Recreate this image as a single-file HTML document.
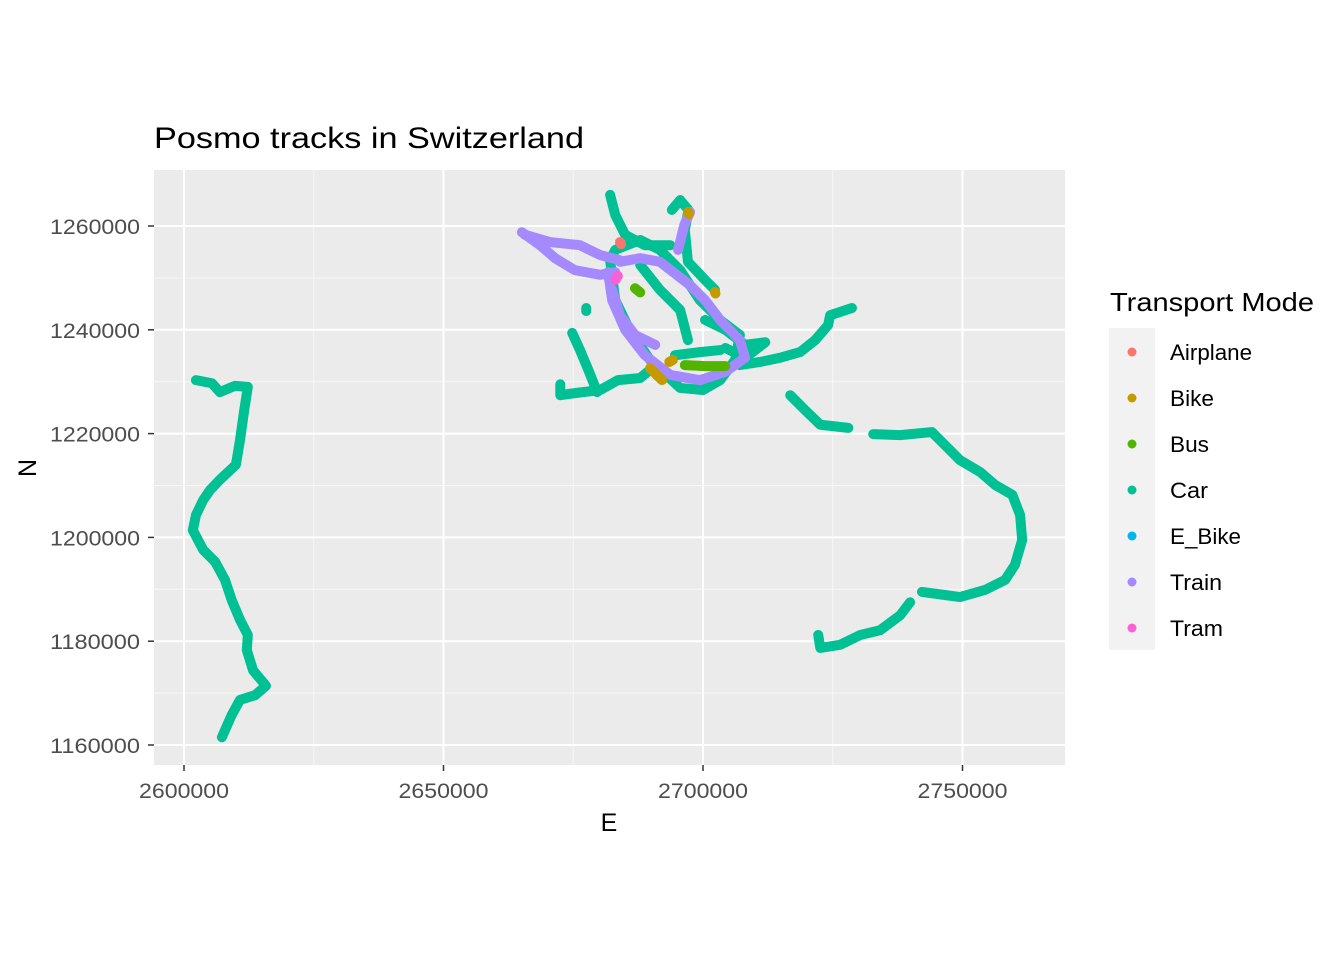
<!DOCTYPE html>
<html><head><meta charset="utf-8"><style>
body{margin:0;background:#fff;font-family:"Liberation Sans",Arial,sans-serif}
svg text{font-family:"Liberation Sans",Arial,sans-serif}
</style></head><body>
<svg id="chart" width="1344" height="960" viewBox="0 0 1344 960">
<rect x="0" y="0" width="1344" height="960" fill="#fff"/>
<text x="154" y="148" font-size="30" textLength="430" lengthAdjust="spacingAndGlyphs" fill="#000">Posmo tracks in Switzerland</text>
<rect x="154" y="170" width="911" height="595" fill="#EBEBEB"/>
<g id="grid"></g>
<g id="tracks"></g>
<g id="axes"></g>
<text x="609" y="831" font-size="25" text-anchor="middle" fill="#000">E</text>
<text x="36" y="468" font-size="25" text-anchor="middle" fill="#000" transform="rotate(-90 36 468)">N</text>
<g id="legend">
<text x="1110" y="311" font-size="26" textLength="204" lengthAdjust="spacingAndGlyphs" fill="#000">Transport Mode</text>
<rect x="1109" y="328" width="46" height="322" fill="#F2F2F2"/>
</g>
</svg>
<script>
const modes = ["Airplane","Bike","Bus","Car","E_Bike","Train","Tram"];
const modeColors = ["#F8766D","#C49A00","#53B400","#00C094","#00B6EB","#A58AFF","#FB61D7"];
const xTicks = [2600000,2650000,2700000,2750000];
const yTicks = [1160000,1180000,1200000,1220000,1240000,1260000];
// tracks: [[E(thousands), N(thousands)], ...]
const carTracks = [
 [[2602.3,1230.3],[2605.4,1229.7],[2606.9,1228.0],[2609.8,1229.2],[2612.3,1229.0],[2611.6,1224.5],[2610.8,1218.8],[2610.0,1214.0],[2606.9,1211.1],[2605.0,1209.1],[2603.7,1207.2],[2602.3,1204.3],[2601.7,1201.4],[2603.7,1197.6],[2606.0,1195.3],[2607.9,1191.8],[2609.2,1187.9],[2610.8,1184.1],[2612.3,1181.2],[2612.1,1178.3],[2613.3,1174.4],[2615.8,1171.4],[2613.7,1169.6],[2610.8,1168.7],[2609.2,1165.8],[2607.3,1161.5]],
 [[2716.8,1227.4],[2719.7,1224.5],[2722.6,1221.7],[2728.0,1221.1]],
 [[2732.8,1219.9],[2738.0,1219.7],[2744.1,1220.3],[2746.6,1217.8],[2749.5,1214.9],[2753.4,1212.6],[2756.3,1210.1],[2759.6,1208.2],[2761.1,1204.3],[2761.5,1199.5],[2760.1,1194.7],[2758.2,1191.8],[2754.4,1189.9],[2749.5,1188.5],[2746.6,1188.9],[2742.2,1189.5]],
 [[2739.9,1187.5],[2738.0,1185.0],[2734.1,1182.1],[2730.3,1181.2],[2726.4,1179.3],[2722.6,1178.7],[2722.2,1181.2]],
 [[2707.1,1233.2],[2711.0,1233.8],[2714.8,1234.6],[2718.7,1235.7],[2721.6,1238.0],[2724.1,1240.9],[2724.5,1242.8],[2728.7,1244.2]],
 [[2672.5,1229.5],[2672.5,1227.4],[2675.3,1227.8],[2680.2,1228.4],[2683.6,1230.3],[2687.9,1230.7],[2689.8,1232.3]],
 [[2674.8,1239.4],[2676.3,1236.1],[2677.9,1232.3],[2679.6,1228.0]],
 [[2682.1,1253.4],[2683.1,1245.7],[2685.9,1239.9],[2689.8,1234.2],[2695.6,1228.8],[2700.0,1228.4],[2703.3,1230.3],[2706.2,1234.2],[2707.1,1239.0],[2703.3,1241.9],[2699.4,1245.7],[2695.6,1251.5],[2691.7,1255.4],[2687.9,1257.3],[2683.1,1255.4],[2682.1,1253.4]],
 [[2682.1,1266.0],[2683.1,1262.1],[2685.0,1258.3],[2688.8,1256.3],[2693.7,1256.3]],
 [[2694.0,1263.1],[2695.6,1265.0],[2697.2,1263.1],[2696.5,1259.2],[2697.1,1253.1],[2700.4,1249.6],[2702.3,1247.7]],
 [[2687.9,1252.5],[2691.7,1247.7],[2695.6,1243.8],[2697.1,1238.0]],
 [[2700.4,1241.9],[2704.3,1240.0],[2708.1,1237.1],[2712.0,1237.6],[2708.1,1234.6],[2704.3,1236.5]],
 [[2677.5,1244.2],[2677.5,1243.6]],
 [[2694.6,1235.1],[2699.4,1235.7],[2703.3,1236.1]]
];
const trainTracks = [
 [[2665.1,1258.8],[2668.6,1256.3],[2671.5,1253.8],[2675.3,1251.5],[2680.2,1250.6],[2683.1,1251.1]],
 [[2665.7,1258.3],[2670.5,1256.9],[2676.3,1256.3],[2680.2,1254.4],[2684.0,1253.4]],
 [[2681.7,1251.1],[2682.5,1245.7],[2685.0,1240.0],[2688.8,1235.1],[2693.7,1231.3],[2699.4,1230.3],[2704.3,1231.9],[2708.1,1234.6],[2707.1,1238.0],[2703.3,1241.9],[2700.4,1245.7],[2697.5,1248.6],[2691.7,1253.1],[2687.9,1253.8],[2684.0,1253.1]],
 [[2682.5,1247.7],[2684.0,1242.8],[2686.9,1239.0],[2690.8,1237.1]],
 [[2695.2,1255.4],[2696.4,1260.2],[2697.5,1262.7]]
];
const busTracks = [
 [[2696.5,1233.2],[2700.5,1233.0],[2704.3,1233.0]],
 [[2686.9,1248.0],[2687.9,1247.2]]
];
const bikeTracks = [
 [[2689.8,1232.6],[2692.1,1230.3]],
 [[2697.1,1262.7],[2697.3,1262.3]],
 [[2702.3,1247.3],[2702.4,1247.0]],
 [[2693.5,1233.8],[2694.2,1234.2]]
];
const airplaneTracks = [ [[2684.0,1256.9],[2684.2,1256.5]] ];
const tramTracks = [ [[2683.1,1249.6],[2683.6,1250.4]] ];

const X0=154,X1=1065,Y0=170,Y1=765;
function sx(e){return 184+(e-2600000)*(703-184)/100000;}
function sy(n){return 745-(n-1160000)*(745-226)/100000;}
const NS="http://www.w3.org/2000/svg";
function mk(tag,attrs,parent){const el=document.createElementNS(NS,tag);for(const k in attrs)el.setAttribute(k,attrs[k]);parent.appendChild(el);return el;}
const grid=document.getElementById('grid'), axes=document.getElementById('axes'), tracks=document.getElementById('tracks'), legend=document.getElementById('legend');
for(let i=0;i<xTicks.length-1;i++){const x=sx((xTicks[i]+xTicks[i+1])/2);
 const l=mk('line',{x1:x,x2:x,y1:Y0,y2:Y1,stroke:'#F7F7F7','stroke-width':1},grid);
 
 }
for(let i=0;i<yTicks.length-1;i++){const y=sy((yTicks[i]+yTicks[i+1])/2);
 const l=mk('line',{x1:X0,x2:X1,y1:y,y2:y,stroke:'#F7F7F7','stroke-width':1},grid);
 
 }
xTicks.forEach(v=>{const x=sx(v);
 const l=mk('line',{x1:x,x2:x,y1:Y0,y2:Y1,stroke:'#fff','stroke-width':2},grid);
 
 
 const t=mk('line',{x1:x,x2:x,y1:Y1,y2:Y1+6,stroke:'#333','stroke-width':1.5},axes);
 
 
 const tx=mk('text',{x:x,y:798,'font-size':21,'text-anchor':'middle',fill:'#4D4D4D',textLength:90,lengthAdjust:'spacingAndGlyphs'},axes);
 tx.textContent=v;
 
 });
yTicks.forEach(v=>{const y=sy(v);
 const l=mk('line',{x1:X0,x2:X1,y1:y,y2:y,stroke:'#fff','stroke-width':2},grid);
 
 
 const t=mk('line',{x1:X0-6,x2:X0,y1:y,y2:y,stroke:'#333','stroke-width':1.5},axes);
 
 
 const tx=mk('text',{x:140,y:y+8,'font-size':21,'text-anchor':'end',fill:'#4D4D4D',textLength:90,lengthAdjust:'spacingAndGlyphs'},axes);
 tx.textContent=v;
 
 });
function drawTracks(list,color,name){
 list.forEach(tr=>{const pts=tr.map(p=>sx(p[0]*1000)+','+sy(p[1]*1000)).join(' ');
  const pl=mk('polyline',{points:pts,fill:'none',stroke:color,'stroke-width':10,'stroke-linecap':'round','stroke-linejoin':'round'},tracks);
  
  });
}
drawTracks(carTracks,modeColors[3],'car-track');
drawTracks(trainTracks,modeColors[5],'train-track');
drawTracks(busTracks,modeColors[2],'bus-track');
drawTracks(bikeTracks,modeColors[1],'bike-track');
drawTracks(airplaneTracks,modeColors[0],'airplane-track');
drawTracks(tramTracks,modeColors[6],'tram-track');
const legendWidths=[82,44,39,38,71,52,53];
modes.forEach((m,i)=>{const y=352+i*46;
 const c=mk('circle',{cx:1132,cy:y,r:4.5,fill:modeColors[i]},legend);
 
 
 const t=mk('text',{x:1170,y:y+8,'font-size':22,fill:'#000',textLength:legendWidths[i],lengthAdjust:'spacingAndGlyphs'},legend);
 t.textContent=m;
 
 });
</script>
</body></html>
